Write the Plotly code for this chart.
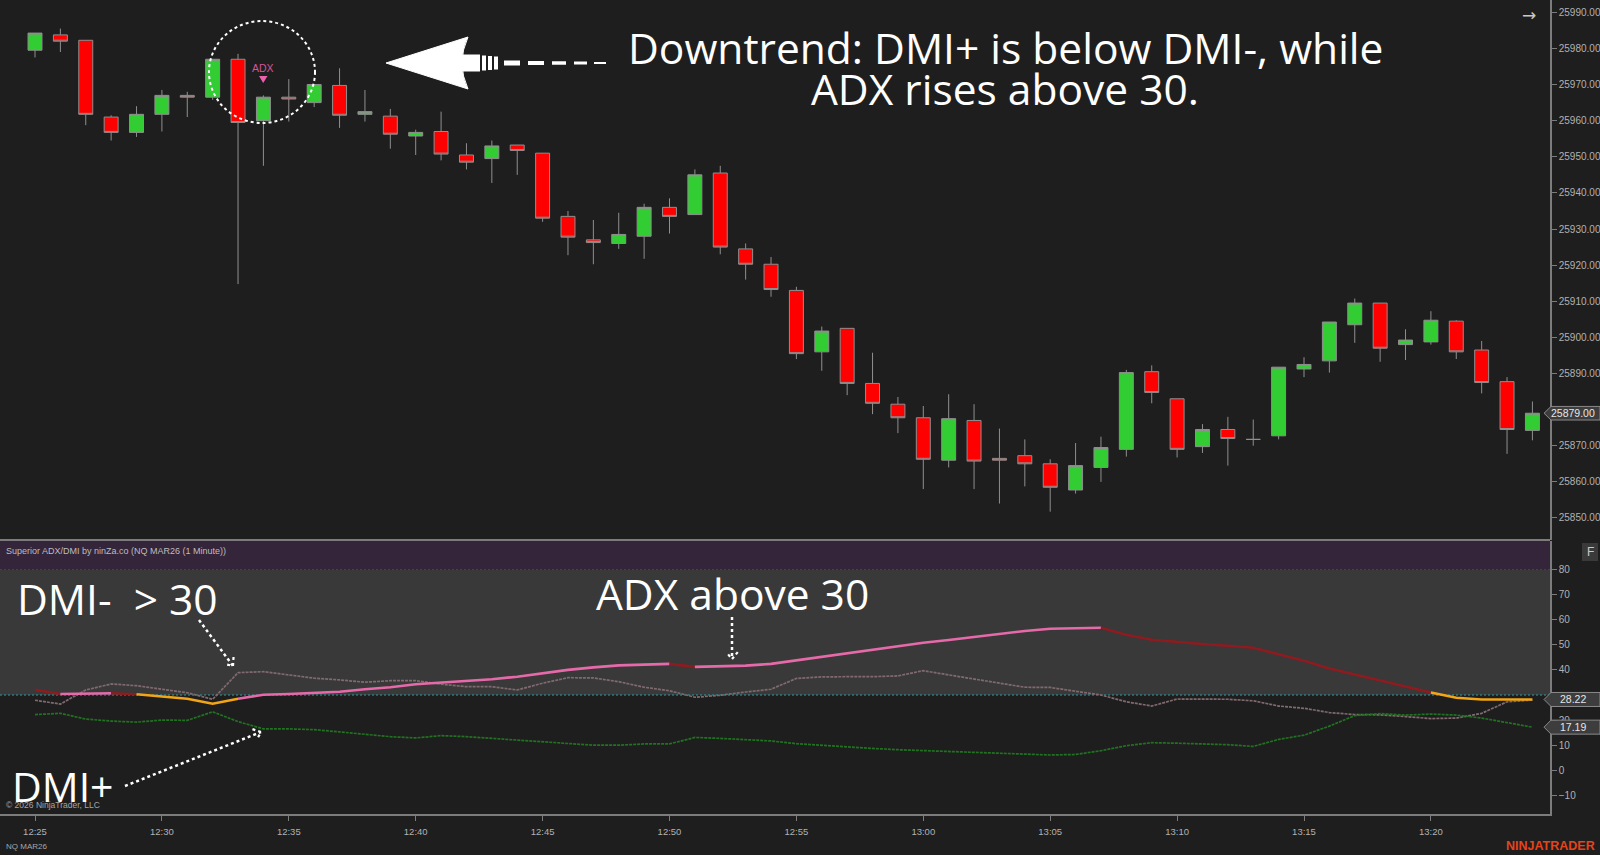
import math
import plotly.graph_objects as go

W, H = 1600, 855

# ---------------- data ----------------
bar_times = ["12:25", "12:26", "12:27", "12:28", "12:29", "12:30", "12:31", "12:32", "12:33", "12:34",
             "12:35", "12:36", "12:37", "12:38", "12:39", "12:40", "12:41", "12:42", "12:43", "12:44",
             "12:45", "12:46", "12:47", "12:48", "12:49", "12:50", "12:51", "12:52", "12:53", "12:54",
             "12:55", "12:56", "12:57", "12:58", "12:59", "13:00", "13:01", "13:02", "13:03", "13:04",
             "13:05", "13:06", "13:07", "13:08", "13:09", "13:10", "13:11", "13:12", "13:13", "13:14",
             "13:15", "13:16", "13:17", "13:18", "13:19", "13:20", "13:21", "13:22", "13:23", "13:24"]

opens = [25979.5, 25983.75, 25982.25, 25961.0, 25956.75, 25961.75, 25967.0, 25966.5, 25977.0, 25960.0,
         25966.5, 25965.0, 25969.75, 25961.75, 25961.25, 25955.75, 25957.0, 25950.5, 25949.5, 25953.25,
         25951.0, 25933.5, 25927.0, 25926.0, 25928.0, 25936.0, 25934.0, 25945.5, 25924.5, 25920.25,
         25913.0, 25896.0, 25902.5, 25887.25, 25881.5, 25877.75, 25866.0, 25877.0, 25866.5, 25867.25,
         25865.0, 25857.75, 25864.0, 25869.0, 25890.5, 25883.0, 25869.75, 25874.5, 25871.75, 25872.75,
         25891.25, 25893.5, 25903.5, 25909.5, 25898.0, 25898.75, 25904.5, 25896.5, 25887.75, 25874.25]
highs = [25984.25, 25985.5, 25982.25, 25961.5, 25964.0, 25968.5, 25968.0, 25977.0, 25978.5, 25967.0,
         25971.5, 25970.0, 25974.5, 25968.5, 25963.25, 25957.5, 25962.5, 25953.75, 25954.5, 25953.25,
         25951.0, 25935.0, 25932.5, 25934.5, 25937.0, 25938.5, 25946.5, 25947.5, 25926.0, 25922.25,
         25914.0, 25903.0, 25902.5, 25895.75, 25883.5, 25881.0, 25884.25, 25881.5, 25874.75, 25871.75,
         25866.25, 25870.75, 25872.5, 25891.0, 25892.25, 25883.0, 25876.0, 25878.0, 25877.25, 25891.75,
         25894.5, 25904.25, 25910.75, 25909.5, 25902.25, 25907.25, 25904.75, 25899.0, 25889.0, 25882.25]
lows = [25977.5, 25979.0, 25958.75, 25954.5, 25955.5, 25957.0, 25961.0, 25965.75, 25914.75, 25947.5,
        25959.75, 25963.75, 25958.0, 25959.75, 25952.25, 25950.5, 25949.0, 25946.5, 25942.75, 25945.0,
        25932.0, 25922.75, 25920.25, 25924.5, 25921.75, 25928.75, 25934.0, 25923.0, 25916.0, 25911.25,
        25894.0, 25890.75, 25884.0, 25878.75, 25873.5, 25858.0, 25864.0, 25858.0, 25854.0, 25858.75,
        25851.75, 25856.75, 25860.0, 25867.0, 25881.75, 25866.75, 25868.0, 25864.5, 25870.0, 25871.75,
        25889.0, 25890.25, 25898.5, 25893.25, 25893.75, 25898.0, 25894.0, 25884.5, 25867.75, 25871.5]
closes = [25984.25, 25982.0, 25961.75, 25956.75, 25961.75, 25967.0, 25966.5, 25977.0, 25959.5, 25966.5,
          25966.0, 25970.0, 25961.5, 25962.5, 25956.25, 25956.75, 25950.75, 25948.5, 25953.0, 25951.75,
          25933.0, 25927.75, 25926.25, 25928.5, 25936.0, 25933.5, 25945.0, 25925.0, 25920.25, 25913.25,
          25895.5, 25901.75, 25887.25, 25881.75, 25877.75, 25866.25, 25877.5, 25865.75, 25866.0, 25865.0,
          25858.5, 25864.5, 25869.5, 25890.25, 25884.75, 25869.0, 25874.5, 25872.0, 25871.75, 25891.75,
          25892.5, 25904.25, 25909.5, 25897.0, 25899.25, 25904.75, 25896.0, 25887.5, 25874.5, 25879.0]

adx = [32.1, 30.4, 30.6, 30.7, 30.3, 29.3, 28.5, 26.5, 28.5, 30.1,
       30.4, 30.7, 31.3, 32.3, 33.1, 34.3, 34.9, 35.5, 36.3, 37.3,
       38.6, 40.0, 41.0, 41.8, 42.1, 42.4, 41.2, 41.4, 41.7, 42.4,
       43.8, 45.0, 46.5, 48.0, 49.5, 50.8, 51.9, 53.2, 54.3, 55.5,
       56.4, 56.7, 56.8, 54.0, 52.0, 51.0, 50.3, 49.6, 48.8, 46.2,
       43.6, 40.6, 38.2, 35.8, 33.2, 31.0, 28.9, 28.2, 28.2, 28.22]
dmi_minus = [27.9, 26.4, 32.0, 34.4, 33.7, 32.4, 30.9, 28.3, 38.9, 39.3,
             38.0, 36.7, 36.0, 35.1, 35.7, 35.7, 34.3, 33.3, 33.3, 32.0,
             34.7, 36.9, 36.8, 35.3, 33.1, 31.7, 29.1, 29.9, 31.2, 32.3,
             36.6, 37.2, 37.3, 37.3, 37.6, 39.7, 38.0, 36.3, 34.9, 33.1,
             33.0, 31.5, 30.0, 27.3, 25.6, 28.4, 28.4, 28.3, 27.7, 25.6,
             24.7, 23.0, 22.2, 22.1, 21.4, 20.6, 20.8, 22.7, 27.3, 28.0]
dmi_plus = [22.2, 22.7, 20.4, 19.6, 19.2, 20.0, 19.9, 23.3, 19.4, 16.5,
            16.5, 16.2, 15.3, 14.3, 13.4, 12.9, 13.8, 13.4, 12.7, 12.1,
            11.2, 10.5, 10.0, 10.0, 10.5, 10.5, 13.1, 12.7, 12.3, 11.7,
            10.6, 9.9, 9.3, 8.7, 8.2, 7.8, 7.4, 7.0, 6.6, 6.3,
            6.1, 6.3, 7.8, 9.8, 11.0, 10.8, 10.6, 10.2, 9.5, 12.3,
            14.0, 17.6, 21.8, 22.6, 22.0, 22.4, 22.0, 20.8, 19.0, 17.19]

time_ticks = ["12:25", "12:30", "12:35", "12:40", "12:45", "12:50",
              "12:55", "13:00", "13:05", "13:10", "13:15", "13:20"]
price_ticks = [25850, 25860, 25870, 25890, 25900, 25910, 25920,
               25930, 25940, 25950, 25960, 25970, 25980, 25990]
osc_ticks = [-10, 0, 10, 20, 40, 50, 60, 70, 80]
adx_threshold = 30
adx_upper = 80
last_price = 25879.00
adx_last = 28.22
dmi_plus_last = 17.19

# ---------------- layout geometry ----------------
def px(x):
    return x / W

def py(y):
    return 1 - y / H

PLOT_R = 1550.0
X0_PX, BAR_PX = 35.0, 25.38
x_range = [-X0_PX / BAR_PX, (PLOT_R - X0_PX) / BAR_PX]
P_REF, P_REF_Y, PPX = 25990.0, 12.3, 3.612
TOP_BOT = 540.0
p_range = [P_REF - (TOP_BOT - P_REF_Y) / PPX, P_REF + P_REF_Y / PPX]
O_ZERO_Y, OPX = 770.3, 2.51
LOW_TOP, LOW_BOT = 540.5, 814.0
o_range = [(O_ZERO_Y - LOW_BOT) / OPX, (O_ZERO_Y - LOW_TOP) / OPX]

xs = list(range(len(bar_times)))
tick_pos = [bar_times.index(t) for t in time_ticks]

BG = "#1e1e1e"
AXC = "#7c7c7c"
TXT = "#b2b2b2"
AXFONT = "Liberation Sans"

fig = go.Figure()

fig.add_trace(go.Candlestick(
    x=xs, open=opens, high=highs, low=lows, close=closes,
    increasing=dict(fillcolor="#32cd32", line=dict(color="#8f8f8f", width=1)),
    decreasing=dict(fillcolor="#ff0000", line=dict(color="#8f8f8f", width=1)),
    whiskerwidth=0, xaxis="x", yaxis="y", hoverinfo="skip", showlegend=False))

# DMI lines
fig.add_trace(go.Scatter(x=xs, y=dmi_minus, mode="lines", xaxis="x2", yaxis="y2",
                         line=dict(color="#806a6f", width=1.7, dash="3px,1px"),
                         hoverinfo="skip", showlegend=False))
fig.add_trace(go.Scatter(x=xs, y=dmi_plus, mode="lines", xaxis="x2", yaxis="y2",
                         line=dict(color="#217221", width=1.7, dash="3px,1px"),
                         hoverinfo="skip", showlegend=False))

# ADX colored segments
ADX_COL = {"pink": "#e66aa9", "red": "#8e1b1f", "orange": "#f2a516"}

def adx_state(i):
    if adx[i] < adx_threshold:
        return "orange"
    return "pink" if adx[i] >= adx[i - 1] else "red"

states = [None] + [adx_state(i) for i in range(1, len(adx))]
i = 1
while i < len(adx):
    j = i
    while j + 1 < len(adx) and states[j + 1] == states[i]:
        j += 1
    seg_x = xs[i - 1:j + 1]
    seg_y = adx[i - 1:j + 1]
    fig.add_trace(go.Scatter(x=seg_x, y=seg_y, mode="lines", xaxis="x2", yaxis="y2",
                             line=dict(color=ADX_COL[states[i]], width=2.6),
                             hoverinfo="skip", showlegend=False))
    i = j + 1

shapes = []
# lower panel bands
shapes.append(dict(type="rect", xref="x2 domain", yref="y2", x0=0, x1=1,
                   y0=adx_threshold, y1=adx_upper, fillcolor="#393939", line=dict(width=0), layer="below"))
shapes.append(dict(type="rect", xref="x2 domain", yref="y2", x0=0, x1=1,
                   y0=adx_upper, y1=o_range[1], fillcolor="#35253a", line=dict(width=0), layer="below"))
shapes.append(dict(type="line", xref="x2 domain", yref="y2", x0=0, x1=1,
                   y0=adx_upper, y1=adx_upper, line=dict(color="#a0182a", width=1, dash="2px,2px"), layer="below"))
shapes.append(dict(type="line", xref="x2 domain", yref="y2", x0=0, x1=1,
                   y0=adx_threshold, y1=adx_threshold, line=dict(color="#23a3a8", width=1, dash="2px,2px"), layer="below"))
# panel separator
shapes.append(dict(type="line", xref="paper", yref="paper", x0=0, x1=px(PLOT_R),
                   y0=py(540), y1=py(540), line=dict(color=AXC, width=2)))

# dotted circle
shapes.append(dict(type="circle", xref="paper", yref="paper", x0=px(209), x1=px(315),
                   y0=py(123), y1=py(21), line=dict(color="white", width=2, dash="dot")))
# small ADX triangle
shapes.append(dict(type="path", xref="paper", yref="paper",
                   path=f"M {px(259)} {py(76)} L {px(267.5)} {py(76)} L {px(263.2)} {py(83)} Z",
                   fillcolor="#ee5fae", line=dict(width=0)))

# big white arrow
shapes.append(dict(type="path", xref="paper", yref="paper",
                   path=(f"M {px(386)} {py(63)} L {px(468)} {py(37)} Q {px(456)} {py(63)} {px(468)} {py(89)} Z"),
                   fillcolor="white", line=dict(color="white", width=1)))
arrow_bits = [(458, 480, 17), (482, 486, 15), (488, 492, 14), (494, 498, 13),
              (504, 520, 5), (528, 544, 4), (552, 566, 3.5), (574, 587, 3), (594, 606, 2)]
for a, b, h in arrow_bits:
    shapes.append(dict(type="rect", xref="paper", yref="paper", x0=px(a), x1=px(b),
                       y0=py(63 + h / 2), y1=py(63 - h / 2), fillcolor="white", line=dict(width=0)))

# dotted pointer arrows
def dotted_arrow(x0, y0, x1, y1):
    out = [dict(type="line", xref="paper", yref="paper", x0=px(x0), y0=py(y0), x1=px(x1), y1=py(y1),
                line=dict(color="white", width=2.5, dash="dot"))]
    dx, dy = x1 - x0, y1 - y0
    L = math.hypot(dx, dy)
    bx, by = -dx / L, -dy / L
    pts = []
    for s in (1, -1):
        a = math.radians(40) * s
        rx = bx * math.cos(a) - by * math.sin(a)
        ry = bx * math.sin(a) + by * math.cos(a)
        pts.append((x1 + 9 * rx, y1 + 9 * ry))
    out.append(dict(type="path", xref="paper", yref="paper",
                    path=(f"M {px(pts[0][0])} {py(pts[0][1])} L {px(x1)} {py(y1)} "
                          f"L {px(pts[1][0])} {py(pts[1][1])}"),
                    line=dict(color="white", width=2.2, dash="dot")))
    return out

shapes += dotted_arrow(199, 620, 233, 666)
shapes += dotted_arrow(732, 617, 732, 659)
shapes += dotted_arrow(125, 786, 261, 732)

# value markers on right axes
def value_marker(yref, val, half_h):
    return dict(type="path", xref="paper", yref=yref,
                path=(f"M {px(1544)} {val} L {px(1551)} {val + half_h} L {px(1600)} {val + half_h} "
                      f"L {px(1600)} {val - half_h} L {px(1551)} {val - half_h} Z"),
                fillcolor="#3d3d3d", line=dict(color="#8a8a8a", width=1))

shapes.append(value_marker("y", last_price, 6.8 / PPX))
shapes.append(value_marker("y2", adx_last, 7.0 / OPX))
shapes.append(value_marker("y2", dmi_plus_last, 7.0 / OPX))

# F button
shapes.append(dict(type="rect", xref="paper", yref="paper", x0=px(1582), x1=px(1598),
                   y0=py(561), y1=py(543), fillcolor="#3a3a3a", line=dict(width=0)))

annotations = []

def txt(x, y, s, size, color="white", family="Open Sans", xanchor="left", yanchor="middle",
        xref="paper", yref="paper", bold=False):
    if bold:
        s = "<b>" + s + "</b>"
    annotations.append(dict(x=x, y=y, xref=xref, yref=yref, text=s, showarrow=False,
                            xanchor=xanchor, yanchor=yanchor,
                            font=dict(size=size, color=color, family=family)))

BIG = 42.5
txt(px(1005), py(47.5), "Downtrend: DMI+ is below DMI-, while", BIG, xanchor="center")
txt(px(1005), py(88.5), "ADX rises above 30.", BIG, xanchor="center")
txt(px(15), py(598), "DMI-\u00a0 > 30", BIG)
txt(px(594), py(593), "ADX above 30", BIG)
txt(px(10), py(786), "DMI+", 41)

txt(px(263.3), py(68), "ADX", 10.5, color="#d5559b", family="Liberation Sans", xanchor="center")
txt(px(1529), py(15), "\u2192", 17, color="#c8c8c8", family="DejaVu Sans", xanchor="center")
txt(px(1590), py(552), "F", 12, color="#c8c8c8", family="Liberation Sans", xanchor="center")
txt(px(4), py(551), "Superior ADX/DMI by ninZa.co (NQ MAR26 (1 Minute))", 9, color="#bdbdbd",
    family=AXFONT)
txt(px(4), py(805), "\u00a9 2026 NinjaTrader, LLC", 8.5, color="#a6a6a6", family=AXFONT)
txt(px(4), py(846), "NQ MAR26", 8, color="#a6a6a6", family=AXFONT)
txt(px(1597), py(846), "NINJATRADER", 12.5, color="#e5441b", family=AXFONT, xanchor="right", bold=True)

txt(px(1573), last_price, f"{last_price:.2f}", 10.5, color="#e6e6e6", family=AXFONT,
    xanchor="center", yref="y")
txt(px(1573), adx_last, f"{adx_last:.2f}", 10.5, color="#e6e6e6", family=AXFONT,
    xanchor="center", yref="y2")
txt(px(1573), dmi_plus_last, f"{dmi_plus_last:.2f}", 10.5, color="#e6e6e6", family=AXFONT,
    xanchor="center", yref="y2")

axis_common = dict(showgrid=False, zeroline=False, fixedrange=True)

fig.update_layout(
    width=W, height=H, autosize=False,
    margin=dict(l=0, r=0, t=0, b=0, pad=0),
    paper_bgcolor=BG, plot_bgcolor=BG,
    showlegend=False, boxgap=0.45, boxgroupgap=0,
    xaxis=dict(domain=[0, px(PLOT_R)], range=x_range, visible=False, anchor="y",
               rangeslider=dict(visible=False), **axis_common),
    yaxis=dict(domain=[py(TOP_BOT), 1], range=p_range, side="right", anchor="x",
               tickvals=price_ticks, tickformat=".2f", ticks="outside", ticklen=5,
               tickcolor=AXC, showline=True, linecolor=AXC, linewidth=1.5,
               tickfont=dict(family=AXFONT, size=10, color=TXT), **axis_common),
    xaxis2=dict(domain=[0, px(PLOT_R)], range=x_range, anchor="y2",
                tickvals=tick_pos, ticktext=time_ticks, ticks="outside", ticklen=5,
                tickcolor=AXC, showline=True, linecolor=AXC, linewidth=2,
                ticklabelstandoff=3,
                tickfont=dict(family=AXFONT, size=9.5, color=TXT), **axis_common),
    yaxis2=dict(domain=[py(LOW_BOT), py(LOW_TOP)], range=o_range, side="right", anchor="x2",
                tickvals=osc_ticks, ticks="outside", ticklen=5,
                tickcolor=AXC, showline=True, linecolor=AXC, linewidth=1.5,
                tickfont=dict(family=AXFONT, size=10, color=TXT), **axis_common),
    shapes=shapes, annotations=annotations,
)

fig.write_html("out.html")
